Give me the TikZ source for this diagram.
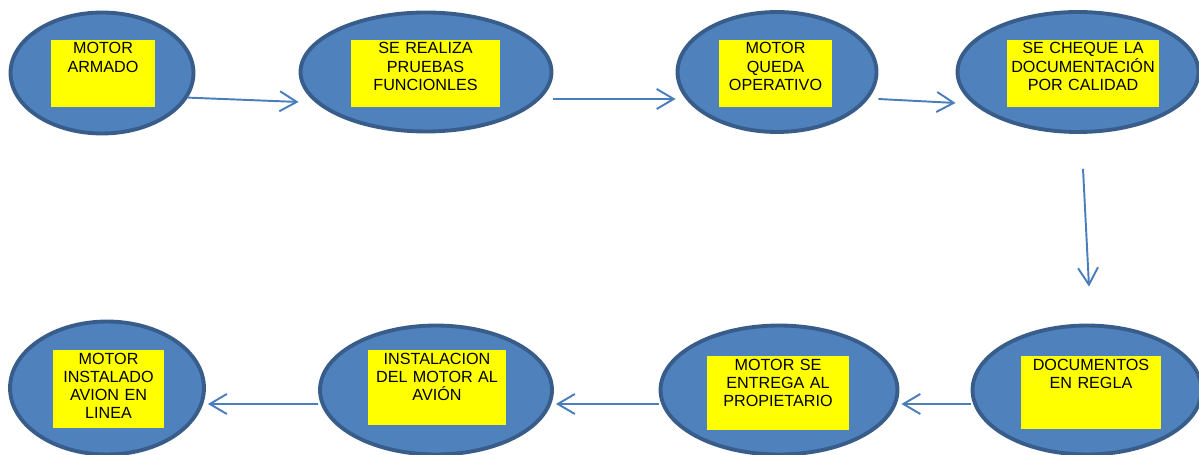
\documentclass[tikz,border=0pt]{standalone}
\usepackage{fontspec}
\setmainfont{Liberation Sans}
\usetikzlibrary{arrows.meta, shapes.geometric}
\definecolor{stageblue}{HTML}{4F81BD}
\definecolor{stageedge}{HTML}{385D8A}
\definecolor{flowblue}{HTML}{4A7EBB}
\definecolor{notefill}{HTML}{FFFF00}

\begin{document}
\begin{tikzpicture}[x=0.02cm, y=-0.02cm, >={Straight Barb[length=3.4mm, width=4mm]},
    flow/.style={draw=flowblue, line width=1.1pt, ->}]
    \useasboundingbox (0,0) rectangle (1199,455);
    % ellipses
    \begin{scope}[every node/.style={ellipse,
        draw=stageedge,
        fill=stageblue,
        line width=2.2pt,
        inner sep=0mm}]
        \node[minimum width=3.66cm, minimum height=2.42cm] (armado) at (102,73) {};
        \node[minimum width=5.02cm, minimum height=2.38cm] (pruebas) at (426,72) {};
        \node[minimum width=3.98cm, minimum height=2.40cm] (operativo) at (777,72) {};
        \node[minimum width=4.82cm, minimum height=2.40cm] (chequeo) at (1078,72) {};
        \node[minimum width=4.58cm, minimum height=2.58cm] (regla) at (1087,390) {};
        \node[minimum width=4.74cm, minimum height=2.58cm] (entrega) at (779,390) {};
        \node[minimum width=4.64cm, minimum height=2.58cm] (instalacion) at (436,390) {};
        \node[minimum width=3.88cm, minimum height=2.66cm] (instalado) at (107,388) {};
    \end{scope}
    % yellow boxes
    \begin{scope}[every node/.style={fill=notefill,
        text=black,
        inner sep=0mm,
        align=center,
        text height=2.8mm,
        font=\fontsize{9.2}{10.3}\selectfont}]
        \node[text width=2.08cm, text depth=10.6mm] (armadotxt) at (103,73.5) {MOTOR\\ARMADO};
        \node[text width=2.98cm, text depth=10.6mm] (pruebastxt) at (425.5,73.5) {SE REALIZA\\PRUEBAS\\FUNCIONLES};
        \node[text width=2.26cm, text depth=10.6mm] (operativotxt) at (775.5,73.5) {MOTOR\\QUEDA\\OPERATIVO};
        \node[text width=3.04cm, text depth=10.6mm] (chequeotxt) at (1083,73.5) {SE CHEQUE LA\\DOCUMENTACIÓN\\POR CALIDAD};
        \node[text width=2.80cm, text depth=11.8mm] (reglatxt) at (1091,392.5) {DOCUMENTOS\\EN REGLA};
        \node[text width=2.84cm, text depth=12.0mm] (entregatxt) at (778,393) {MOTOR SE\\ENTREGA AL\\PROPIETARIO};
        \node[text width=2.76cm, text depth=12.2mm] (instalaciontxt) at (437,387.5) {INSTALACION\\DEL MOTOR AL\\AVIÓN};
        \node[text width=2.22cm, text depth=12.8mm] (instaladotxt) at (108.5,389) {MOTOR\\INSTALADO\\AVION EN\\LINEA};
    \end{scope}
    % connectors
    \draw[flow] (armado.-16) -- ([yshift=-0.6cm]pruebas.west);
    \draw[flow] ([yshift=-0.54cm]pruebas.east) -- ([yshift=-0.54cm]operativo.west);
    \draw[flow] ([yshift=-0.54cm]operativo.east) -- ([yshift=-0.62cm]chequeo.west);
    \draw[flow] ([xshift=0.1cm, yshift=-0.7cm]chequeo.south) -- ([xshift=0.04cm, yshift=0.74cm]regla.north);
    \draw[flow] ([yshift=-0.28cm]regla.west) -- ([xshift=0.04cm, yshift=-0.28cm]entrega.east);
    \draw[flow] ([yshift=-0.28cm]entrega.west) -- ([xshift=0.04cm, yshift=-0.28cm]instalacion.east);
    \draw[flow] ([yshift=-0.28cm]instalacion.west) -- ([xshift=0.04cm, yshift=-0.32cm]instalado.east);
\end{tikzpicture}
\end{document}
